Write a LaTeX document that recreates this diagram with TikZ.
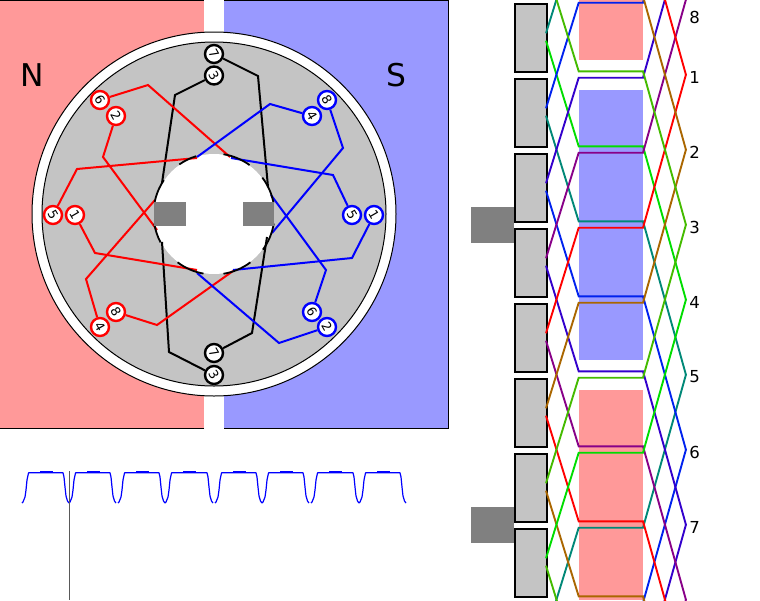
\documentclass[tikz,border=0pt]{standalone}
\usepackage{fontspec}
\setmainfont{DejaVu Sans}
\definecolor{polered}{HTML}{FF9999}
\definecolor{poleblue}{HTML}{9999FF}
\definecolor{iron}{HTML}{C4C4C4}
\definecolor{shaft}{HTML}{808080}
\definecolor{wlime}{HTML}{44BB00}
\definecolor{wgreen}{HTML}{00DD00}
\definecolor{wteal}{HTML}{008877}
\definecolor{wblue}{HTML}{0022EE}
\definecolor{windigo}{HTML}{3300CC}
\definecolor{wpurple}{HTML}{880088}
\definecolor{wred}{HTML}{FF0000}
\definecolor{wbrown}{HTML}{AA6600}
\tikzset{
  px/.style={line width=#1*0.75pt},
  coil/.style={circle,draw=#1,fill=white,px=2.4,minimum size=18*0.75pt,inner sep=0pt,font=\fontsize{9.5}{9.5}\selectfont},
  wire/.style={draw=#1,px=2,line join=miter},
  slotwire/.style={draw=#1,px=1.9,line join=miter},
  lab/.style={font=\fontsize{12.4}{12.4}\selectfont,text=black,inner sep=0pt},
  pole/.style={font=\fontsize{23.5}{23.5}\selectfont,text=black,inner sep=0pt},
  tooth/.style={draw=black,fill=iron,px=2},
  trace/.style={draw=blue,px=1.2,line join=round}
}
\begin{document}
\begin{tikzpicture}[x=0.75pt,y=-0.75pt]
\useasboundingbox (0,0) rectangle (760,600);
% poles
\fill[polered] (0,0) rectangle (204,428);
\fill[poleblue] (224,0) rectangle (448,428);
\draw[px=1] (0,0.5) -- (204,0.5) (224,0.5) -- (448,0.5) -- (448,428) -- (224,428) (204,428) -- (0,428);
\node[pole] (N) at (32,75) {N};
\node[pole] (S) at (396.5,75.5) {S};
% ring and iron
\filldraw[fill=white,draw=black,px=1] (214,214) circle (182);
\filldraw[fill=iron,draw=black,px=1] (214,214) circle (172);
\fill[white] (214,214) circle (60);
% coil terminals
\foreach \n/\c/\x/\y/\t in {
  kt/black/214/54/7, kh/black/214/75.5/3,
  kb/black/214/353/7, kl/black/214/375/3,
  rs/red/100/100/6, rb/red/116/116/2,
  ra/red/53/215/5, rc/red/75/215/1,
  rh/red/116/312/8, rd/red/100/327/4,
  bh/blue/327/100/8, bd/blue/312/116/4,
  ba/blue/352/215/5, bc/blue/374/215/1,
  bs/blue/312/312/6, bb/blue/327/327/2}
  \node[coil=\c] (\n) at (\x,\y) {\rotatebox{-60}{\t}};
% wires
\draw[wire=black] (kh) -- (175,95) -- (162,183);
\draw[wire=black] (162,242) -- (169,352) -- (kl);
\draw[wire=black] (kt) -- (258,76) -- (268,187);
\draw[wire=black] (267,237) -- (252,333) -- (kb);
\draw[wire=red] (rs) -- (148,85) -- (230,157);
\draw[wire=red] (ra) -- (77,169) -- (197,158);
\draw[wire=red] (rb) -- (103,157) -- (157,230);
\draw[wire=red] (rd) -- (86,279) -- (155,200);
\draw[wire=red] (rc) -- (95,253) -- (197,270);
\draw[wire=red] (rh) -- (157,325) -- (233,271);
\draw[wire=blue] (bd) -- (270,104) -- (197,157);
\draw[wire=blue] (ba) -- (333,175) -- (231,158);
\draw[wire=blue] (bh) -- (343,148) -- (272,233);
\draw[wire=blue] (bs) -- (326,270) -- (271,195);
\draw[wire=blue] (bc) -- (352,258) -- (233,270);
\draw[wire=blue] (bb) -- (279,343) -- (197,273);
% shaft arcs
\foreach \a/\b in {146/169,107/125,54/81,11/37,-36/-9,-81/-53,233/260,189/208}
  \draw[black,px=1.8] ({214+60.5*cos(\a)},{214-60.5*sin(\a)}) arc[start angle=-\a,end angle=-\b,radius=60.5];
% shaft blocks
\fill[shaft] (154,202) rectangle (186,226);
\fill[shaft] (243,202) rectangle (274,226);
% developed view
\fill[polered] (578.7,0) rectangle (643,60);
\fill[poleblue] (578.7,90) rectangle (643,360);
\fill[polered] (578.7,390) rectangle (643,600);
\fill[shaft] (471,206.7) rectangle (514,242.7);
\fill[shaft] (471,506.7) rectangle (514,542.7);
\foreach \k in {0,...,7}
  \node[tooth,minimum width=32*0.75pt,minimum height=68*0.75pt,inner sep=0pt,outer sep=0pt,anchor=north west] (t\k) at (514.5,{3.5+75*\k}) {};
\begin{scope}
\clip (0,0) rectangle (760,600);
\foreach \k/\lc/\uc in {0/wgreen/wteal,1/wteal/wblue,2/wblue/windigo,3/windigo/wpurple,4/wpurple/wred,5/wred/wbrown,6/wbrown/wlime,7/wlime/wgreen}{
  \pgfmathsetmacro{\cy}{37+75*\k}
  \pgfmathsetmacro{\lowy}{\cy+109.3}
  \pgfmathsetmacro{\highy}{\cy-109.3}
  \foreach \sh in {-600,0,600}{
    \draw[slotwire=\lc] (546,\cy+3.7+\sh) -- (578.7,\lowy+\sh) -- (643,\lowy+\sh) -- (686,\lowy+153.7+\sh);
    \draw[slotwire=\uc] (546,\cy-3.7+\sh) -- (578.7,\highy+\sh) -- (643,\highy+\sh) -- (686,\highy-153.3+\sh);
  }
}
\end{scope}
\foreach \n/\t/\y in {a/8/17,b/1/77,c/2/152,d/3/227,e/4/302,f/5/377,g/6/452,h/7/527}
  \node[lab] (lab\n) at (694.5,\y) {\t};
% waveform
\foreach \a/\b in {29/63,76/110,125/159,172/207,222/256,269/303,318/353,366/400}{
  \draw[trace] (\a-7,503) -- (\a-6,502) -- (\a-4,497) -- (\a-3,490) -- (\a-2,480) -- (\a-0.5,473) -- (\a,472.7) -- (\b,472.7) -- (\b+1,477) -- (\b+2,487) -- (\b+3,496) -- (\b+4.5,501) -- (\b+6,503);
  \draw[draw=blue,px=1.8] (\a+11,471.6) -- (\a+24,471.6);
}
\coordinate (vt) at (69.3,471);
\coordinate (vb) at (69.3,600);
\draw[draw=black!65,px=1] (vt) -- (vb);
\end{tikzpicture}
\end{document}
